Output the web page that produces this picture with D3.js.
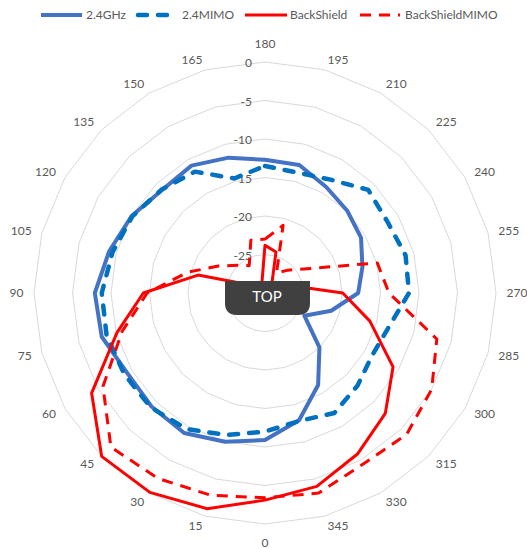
<!DOCTYPE html>
<html>
<head>
<meta charset="utf-8">
<script src="https://cdn.jsdelivr.net/npm/d3@7"></script>
<style>
  html, body { margin: 0; padding: 0; background: #ffffff; }
  svg { display: block; font-family: Lato, "Open Sans", sans-serif; }
</style>
</head>
<body>
<svg id="chart" width="527" height="549"></svg>
<script>
// ---- data ----
const categories = [180,195,210,225,240,255,270,285,300,315,330,345,0,15,30,45,60,75,90,105,120,135,150,165];
const ghz24 = [-12.7,-12.8,-14.1,-14.9,-15.6,-16.9,-17.9,-21.1,-24.1,-20.0,-16.2,-12.9,-10.9,-10.0,-9.0,-9.15,-9.3,-8.05,-7.9,-9.05,-10.0,-11.1,-10.9,-11.8];
const mimo24 = [-13.5,-13.8,-13.0,-11.05,-11.6,-11.1,-11.3,-13.3,-13.9,-13.0,-12.0,-12.8,-12.0,-10.9,-9.6,-9.0,-8.9,-8.7,-8.8,-9.5,-10.1,-11.0,-11.8,-14.6];
const backShield = [-23.8,-24.5,-28.1,-29.0,-29.0,-26.4,-19.9,-15.9,-10.8,-7.9,-5.9,-4.0,-3.1,-1.0,-0.1,0.0,-4.0,-10.1,-14.2,-21.0,-28.0,-29.3,-29.3,-28.5];
const backShieldMimo = [-23.0,-20.9,-27.0,-25.8,-23.7,-14.9,-13.9,-6.9,-5.0,-4.0,-4.4,-3.1,-3.4,-2.8,-2.2,-1.7,-5.7,-10.8,-14.7,-19.6,-23.0,-24.9,-25.9,-22.9];
const seriesNames = ["2.4GHz","2.4MIMO","BackShield","BackShieldMIMO"];
const radialTicks = [0,-5,-10,-15,-20,-25];
const centerLabel = "TOP";

// ---- setup ----
const svg = d3.select("#chart");
const cx = 265, cy = 293, R = 231;
const g = svg.append("g").attr("transform", `translate(${cx},${cy})`);

const r = d3.scaleLinear().domain([-30, 0]).range([0, R]);
const ang = d3.scaleLinear().domain([0, categories.length]).range([0, 2 * Math.PI]);

const gridLine = d3.lineRadial()
  .angle((d, i) => ang(i))
  .radius(d => r(d))
  .curve(d3.curveLinearClosed);

// gridlines (polygons)
radialTicks.forEach(t => {
  g.append("path")
    .attr("d", gridLine(categories.map(() => t)))
    .attr("fill", "none")
    .attr("stroke", "#D9D9D9")
    .attr("stroke-width", 1);
});

// value axis labels
g.selectAll("text.tick").data(radialTicks).enter().append("text")
  .attr("class", "tick")
  .attr("x", -13)
  .attr("y", d => -r(d) + 1)
  .attr("dy", "0.35em")
  .attr("text-anchor", "end")
  .attr("font-size", 12)
  .attr("fill", "#595959")
  .text(d => d);

// category labels
const labelR = R + 10.5;
g.selectAll("text.cat").data(categories).enter().append("text")
  .attr("class", "cat")
  .each(function (d, i) {
    const a = ang(i);
    const s = Math.sin(a), c = Math.cos(a);
    const x = labelR * s, y = -labelR * c;
    let anchor = "middle", yOff = 0;
    if (Math.abs(s) < 1e-6) {
      yOff = c > 0 ? -8 : 8;
    } else {
      anchor = s > 0 ? "start" : "end";
    }
    d3.select(this)
      .attr("x", x)
      .attr("y", y + yOff)
      .attr("text-anchor", anchor);
  })
  .attr("dy", "0.35em")
  .attr("font-size", 12)
  .attr("fill", "#595959")
  .text(d => d);

// series
const styles = [
  { data: ghz24, color: "#4472C4", width: 4, dash: null, cap: "butt" },
  { data: mimo24, color: "#0070C0", width: 4.5, dash: "9,11", cap: "round" },
  { data: backShield, color: "#FF0000", width: 3, dash: null, cap: "butt" },
  { data: backShieldMimo, color: "#FF0000", width: 3, dash: "11,8", cap: "butt" }
];

styles.forEach(s => {
  g.append("path")
    .attr("d", gridLine(s.data))
    .attr("fill", "none")
    .attr("stroke", s.color)
    .attr("stroke-width", s.width)
    .attr("stroke-linejoin", "round")
    .attr("stroke-linecap", s.cap)
    .attr("stroke-dasharray", s.dash);
});

// center box
svg.append("path")
  .attr("d", "M225,281 H310 V303 Q310,315 298,315 H237 Q225,315 225,303 Z")
  .attr("fill", "#404040");
svg.append("text")
  .attr("x", 267)
  .attr("y", 297)
  .attr("dy", "0.35em")
  .attr("text-anchor", "middle")
  .attr("font-size", 15)
  .attr("fill", "#ffffff")
  .text(centerLabel);

// legend
const legendPos = [
  { x0: 41, x1: 82, tx: 86 },
  { x0: 138, x1: 178, tx: 182 },
  { x0: 245, x1: 287, tx: 290 },
  { x0: 360, x1: 400, tx: 405 }
];
const lg = svg.append("g");
seriesNames.forEach((name, i) => {
  const s = styles[i], p = legendPos[i];
  lg.append("line")
    .attr("x1", p.x0).attr("x2", p.x1)
    .attr("y1", 15).attr("y2", 15)
    .attr("stroke", s.color)
    .attr("stroke-width", s.width)
    .attr("stroke-linecap", s.cap)
    .attr("stroke-dasharray", s.dash);
  lg.append("text")
    .attr("x", p.tx).attr("y", 15)
    .attr("dy", "0.35em")
    .attr("font-size", 12)
    .attr("fill", "#595959")
    .text(name);
});
</script>
</body>
</html>
